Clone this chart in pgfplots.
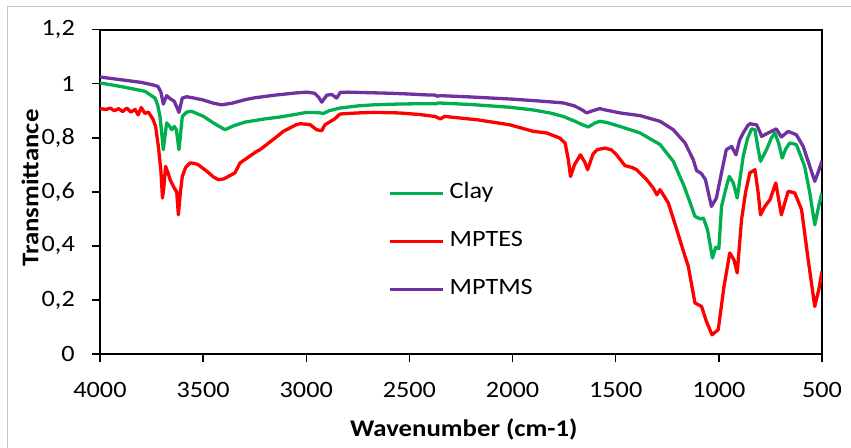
\documentclass[border=0pt]{standalone}
\usepackage{fontspec}
\setmainfont[FakeStretch=1.12]{Carlito}
\usepackage{pgfplots}
\pgfplotsset{compat=1.18}
\definecolor{cgreen}{HTML}{00B050}
\definecolor{cred}{HTML}{FF0000}
\definecolor{cpurple}{HTML}{7030A0}
\begin{document}
\begin{tikzpicture}
\useasboundingbox (-100bp,-94bp) rectangle (751bp,354bp);
\draw[black!22, line width=1bp] (-92bp,-94bp) -- (-92bp,347bp) -- (751bp,347bp);
\begin{axis}[
  scale only axis, width=722bp, height=324.3bp,
  x dir=reverse, xmin=500, xmax=4000, ymin=0, ymax=1.2,
  xtick={500,1000,1500,2000,2500,3000,3500,4000},
  xticklabels={500,1000,1500,2000,2500,3000,3500,4000},
  ytick={0,0.2,0.4,0.6,0.8,1,1.2},
  yticklabels={0,{0,2},{0,4},{0,6},{0,8},1,{1,2}},
  xtick pos=left, ytick pos=left,
  tick align=outside, major tick length=8bp,
  tick style={black, line width=1.5bp},
  axis line style={black, line width=2bp},
  ticklabel style={font=\fontsize{23.5}{27}\selectfont},
  yticklabel style={anchor=east, inner sep=0pt, xshift=-17bp},
  xticklabel style={anchor=north, inner sep=0pt, yshift=-20bp},
  xlabel={Wavenumber (cm-1)}, ylabel={Transmittance},
  label style={font=\bfseries\fontsize{24}{28}\selectfont},
  xlabel style={at={(axis description cs:0.504,-0.234)}, anchor=center},
  ylabel style={at={(axis description cs:-0.097,0.512)}, anchor=center},
  legend style={at={(axis description cs:0.395,0.532)}, anchor=north west, draw=none, fill=none,
    font=\fontsize{23.5}{27}\selectfont, row sep=29bp, column sep=5bp,
    nodes={inner sep=0pt, anchor=west, text height=15bp, text depth=4bp}},
  legend cell align=left,
  legend image code/.code={\draw[#1] (0bp,0bp) -- (53bp,0bp);},
  every axis plot/.append style={line width=3.3bp, line join=round},
]
\addplot[cgreen] coordinates {
(4000,1.003) (3900,0.99) (3782,0.972) (3733,0.947) (3720,0.92) (3709,0.879) (3693,0.756) (3677,0.855) (3665,0.845) (3652,0.83) (3640,0.842) (3630,0.83) (3617,0.756) (3601,0.879) (3580,0.895) (3556,0.898) (3500,0.88) (3450,0.855) (3394,0.83) (3350,0.845) (3297,0.858) (3200,0.87) (3127,0.877) (3050,0.887) (2998,0.894) (2940,0.893) (2917,0.89) (2890,0.9) (2837,0.91) (2750,0.918) (2675,0.922) (2550,0.925) (2449,0.926) (2370,0.926) (2360,0.929) (2200,0.923) (2013,0.913) (1900,0.903) (1819,0.892) (1754,0.879) (1700,0.862) (1660,0.848) (1633,0.84) (1600,0.855) (1576,0.861) (1540,0.856) (1479,0.842) (1382,0.818) (1285,0.775) (1221,0.713) (1168,0.62) (1130,0.54) (1116,0.509) (1090,0.5) (1075,0.503) (1055,0.46) (1031,0.355) (1015,0.395) (1000,0.39) (987,0.546) (960,0.63) (949,0.657) (930,0.633) (911,0.577) (882,0.731) (860,0.8) (841,0.833) (825,0.83) (810,0.76) (798,0.713) (769,0.756) (745,0.8) (728,0.818) (710,0.78) (693,0.725) (675,0.76) (656,0.781) (624,0.775) (584,0.694) (560,0.6) (535,0.478) (515,0.55) (500,0.596)
};
\addlegendentry{Clay}
\addplot[cred] coordinates {
(4000,0.908) (3970,0.905) (3950,0.91) (3930,0.9) (3910,0.908) (3890,0.897) (3870,0.91) (3850,0.895) (3830,0.905) (3815,0.885) (3800,0.912) (3782,0.89) (3765,0.895) (3742,0.867) (3730,0.84) (3717,0.768) (3705,0.68) (3697,0.577) (3690,0.62) (3682,0.694) (3670,0.67) (3660,0.645) (3640,0.614) (3628,0.6) (3620,0.515) (3610,0.6) (3601,0.657) (3585,0.69) (3564,0.707) (3540,0.705) (3523,0.7) (3480,0.675) (3450,0.655) (3426,0.645) (3400,0.648) (3346,0.67) (3321,0.707) (3240,0.75) (3224,0.756) (3150,0.8) (3111,0.824) (3050,0.848) (3030,0.852) (2982,0.849) (2950,0.83) (2925,0.826) (2910,0.848) (2862,0.87) (2837,0.888) (2750,0.892) (2675,0.894) (2550,0.892) (2449,0.886) (2376,0.879) (2350,0.87) (2330,0.879) (2174,0.867) (2013,0.848) (1900,0.824) (1835,0.818) (1771,0.799) (1745,0.78) (1730,0.72) (1719,0.657) (1700,0.7) (1671,0.737) (1650,0.71) (1636,0.682) (1610,0.74) (1590,0.756) (1552,0.762) (1520,0.755) (1496,0.737) (1455,0.697) (1420,0.69) (1399,0.682) (1350,0.645) (1318,0.614) (1300,0.589) (1285,0.608) (1245,0.559) (1204,0.46) (1164,0.361) (1148,0.324) (1116,0.189) (1084,0.176) (1060,0.12) (1033,0.071) (1003,0.09) (975,0.25) (947,0.374) (927,0.349) (911,0.3) (890,0.497) (870,0.6) (850,0.67) (825,0.682) (810,0.6) (798,0.515) (777,0.546) (752,0.571) (724,0.633) (697,0.515) (664,0.602) (632,0.596) (599,0.534) (567,0.349) (535,0.176) (515,0.24) (500,0.306)
};
\addlegendentry{MPTES}
\addplot[cpurple] coordinates {
(4000,1.025) (3900,1.015) (3800,1.005) (3740,0.995) (3719,0.99) (3705,0.97) (3693,0.925) (3677,0.956) (3660,0.945) (3640,0.935) (3617,0.894) (3601,0.947) (3580,0.952) (3550,0.948) (3500,0.94) (3450,0.928) (3410,0.922) (3360,0.928) (3297,0.941) (3250,0.948) (3150,0.958) (3050,0.966) (2998,0.969) (2960,0.965) (2940,0.95) (2925,0.932) (2900,0.958) (2875,0.96) (2853,0.947) (2835,0.968) (2800,0.969) (2700,0.967) (2600,0.965) (2500,0.962) (2449,0.96) (2400,0.958) (2376,0.958) (2365,0.954) (2350,0.956) (2200,0.951) (2000,0.943) (1850,0.935) (1754,0.929) (1700,0.918) (1660,0.902) (1641,0.892) (1620,0.898) (1578,0.908) (1550,0.903) (1479,0.892) (1382,0.882) (1285,0.861) (1221,0.83) (1164,0.781) (1124,0.719) (1108,0.679) (1085,0.668) (1065,0.645) (1036,0.546) (1012,0.577) (990,0.66) (964,0.756) (938,0.768) (917,0.737) (900,0.79) (882,0.818) (860,0.845) (850,0.852) (817,0.848) (800,0.82) (793,0.805) (761,0.818) (721,0.833) (697,0.803) (664,0.824) (624,0.811) (591,0.768) (559,0.694) (535,0.639) (515,0.68) (500,0.715)
};
\addlegendentry{MPTMS}
\end{axis}
\end{tikzpicture}
\end{document}
